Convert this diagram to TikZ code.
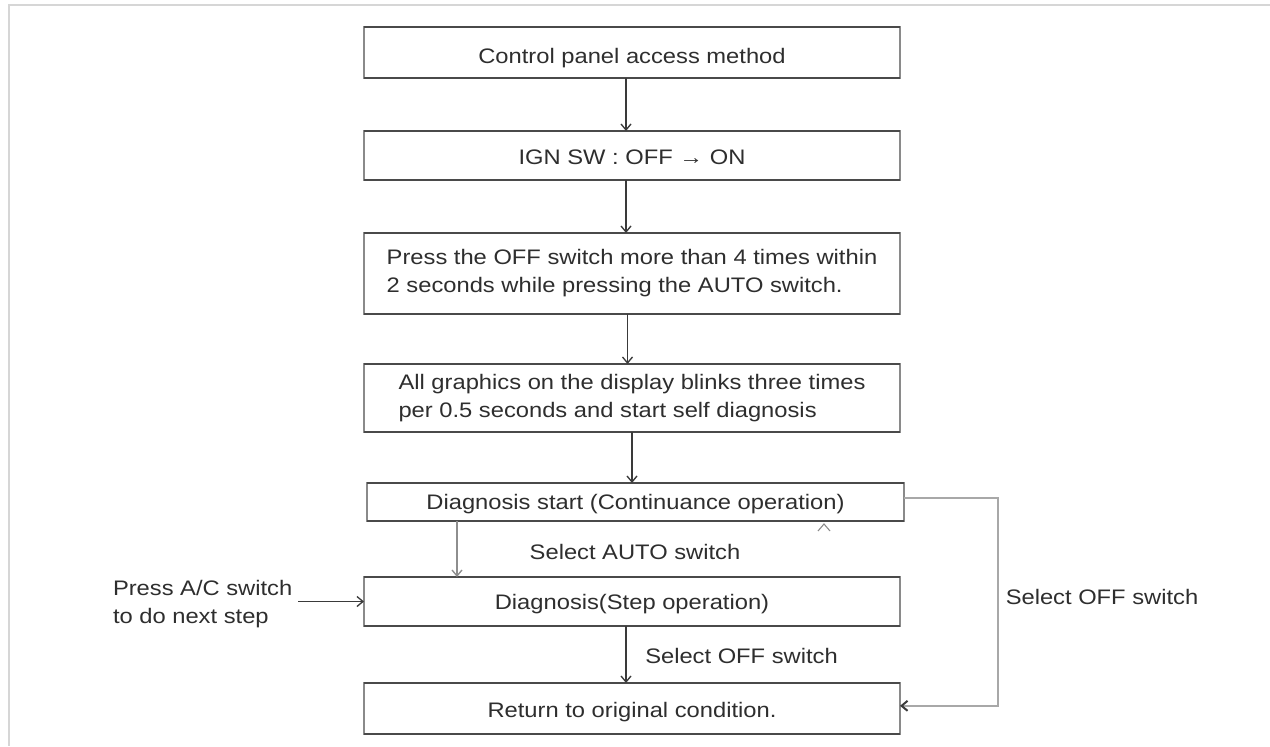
\documentclass[tikz,border=0pt]{standalone}
\usepackage{fontspec}
\setmainfont{Liberation Sans}[FakeStretch=1.13]
\usetikzlibrary{arrows.meta}
\definecolor{txt}{HTML}{2E2E2E}
\definecolor{framec}{HTML}{D6D6D6}
\definecolor{sidec}{HTML}{8A8A8A}
\definecolor{edgec}{HTML}{4A4A4A}
\definecolor{connc}{HTML}{3A3A3A}
\definecolor{lconnc}{HTML}{8E8E8E}
\definecolor{loopc}{HTML}{A8A8A8}
\begin{document}
\begin{tikzpicture}[x=0.75pt,y=-0.75pt,
  every node/.style={text=txt,inner sep=0pt,outer sep=0pt,font=\fontsize{15.75}{21}\selectfont},
  box/.style={draw=sidec,line width=1.1pt,minimum width=402pt,fill=white},
  capc/.style={text height=11.3pt,text depth=0pt},
  capd/.style={text height={11.3pt+#1},text depth={-#1}},
  edgeline/.style={draw=edgec,line width=2pt},
  arr/.style={draw=connc,line width=1pt,-{Straight Barb[length=4.5pt,width=7.5pt]}},
  larr/.style={draw=lconnc,line width=1pt,-{Straight Barb[length=4.5pt,width=7.5pt]}},
  looparr/.style={draw=loopc,line width=1.5pt,-{Straight Barb[length=4.5pt,width=7.5pt,color=connc]}}
]
\useasboundingbox (0,0) rectangle (1270,746);
\fill[white] (0,0) rectangle (1270,746);
\draw[framec,line width=1.5pt] (1270,5) -- (8.5,5) -- (8.5,746);

\node[box,capd=4.5pt,minimum height=38.25pt] (b1) at (632,52.5) {Control panel access method};
\node[box,capd=2.5pt,minimum height=36.75pt] (b2) at (632,155.5) {IGN SW : OFF → ON};
\node[box,align=left,minimum height=60.75pt] (b3) at (632,273.5) {Press the OFF switch more than 4 times within\\2 seconds while pressing the AUTO switch.};
\node[box,align=left,minimum height=51pt] (b4) at (632,398) {All graphics on the display blinks three times\\per 0.5 seconds and start self diagnosis};
\node[box,capc,minimum width=402.75pt,minimum height=28.5pt] (b5) at (635.5,502) {Diagnosis start (Continuance operation)};
\node[box,capc,minimum height=36.75pt] (b6) at (632,601.5) {Diagnosis(Step operation)};
\node[box,capd=2pt,minimum height=38.25pt] (b7) at (632,708.5) {Return to original condition.};

\foreach \n in {b1,b2,b3,b4,b5,b6,b7}{
  \draw[edgeline] (\n.north west) -- (\n.north east);
  \draw[edgeline] (\n.south west) -- (\n.south east);
}

\coordinate (c1) at (626,0);
\coordinate (c3) at (627.5,0);
\coordinate (c4) at (632,0);
\coordinate (c5) at (457,0);
\coordinate (rl) at (998,0);
\coordinate (pa) at (298,601.5);
\coordinate (l1) at ([yshift=3pt]b5.east);
\coordinate (l2) at ([yshift=2pt]b7.east);
\coordinate (stray) at (824,524);

\draw[arr] (b1.south -| c1) -- (b2.north -| c1);
\draw[arr] (b2.south -| c1) -- (b3.north -| c1);
\draw[arr] (b3.south -| c3) -- (b4.north -| c3);
\draw[arr] (b4.south -| c4) -- (b5.north -| c4);
\draw[larr] (b5.south -| c5) -- (b6.north -| c5);
\draw[arr] (b6.south -| c1) -- (b7.north -| c1);
\draw[arr] (pa) -- (b6.west);
\draw[looparr] (l1) -- (l1 -| rl) -- (l2 -| rl) -- (l2);
\draw[draw=sidec,line width=0.8pt] (stray) ++(-6,7) -- (stray) -- ++(6,7);

\node[capc] (lauto) at (635,551.5) {Select AUTO switch};
\node[capc] (loff1) at (741.5,656) {Select OFF switch};
\node[capc] (loff2) at (1102,597) {Select OFF switch};
\node[align=left,anchor=west] (lpress) at (113,603.7) {Press A/C switch\\to do next step};
\end{tikzpicture}
\end{document}
